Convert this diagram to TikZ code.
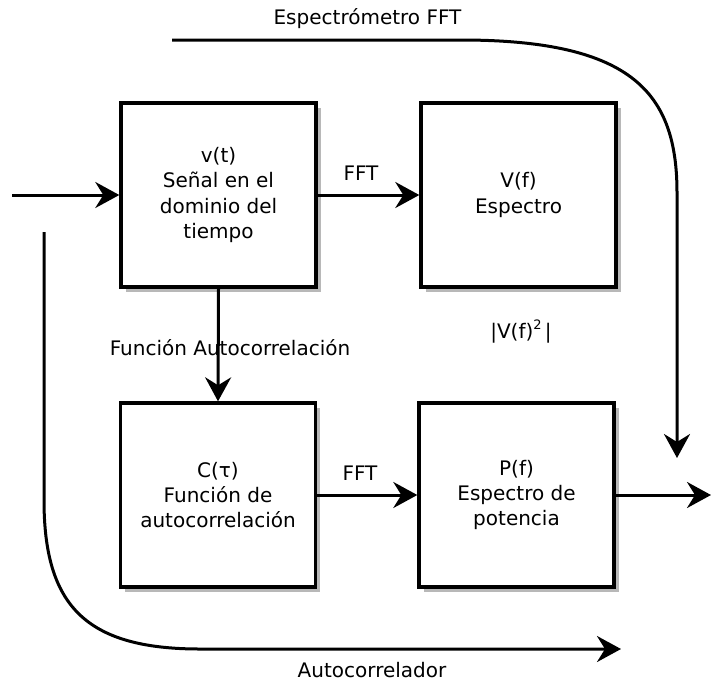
\documentclass[tikz,border=0pt]{standalone}
\usepackage{fontspec}
\setmainfont{DejaVu Sans}
\usetikzlibrary{arrows.meta,shadows}

\tikzset{
  blockbox/.style={draw=black, line width=3.4pt, fill=white,
    minimum width=195pt, minimum height=184pt, inner sep=0pt,
    align=center, font=\fontsize{20}{25.3}\selectfont,
    drop shadow={shadow xshift=4.5pt, shadow yshift=-4.5pt, fill=black!28, opacity=1}},
  conn/.style={line width=3pt, -{Stealth[length=24pt, width=26pt, inset=8pt]}},
  lbl/.style={anchor=base, inner sep=0pt, font=\fontsize{20}{24}\selectfont}
}

\begin{document}
\begin{tikzpicture}[x=1pt, y=-1pt]
  \useasboundingbox (0,0) rectangle (711,681);

  % processing blocks
  \node[blockbox] (sig)  at (218.5,195) {v(t)\\Señal en el\\dominio del\\tiempo};
  \node[blockbox] (spec) at (518.5,195) {V(f)\\Espectro};
  \node[blockbox] (acf)  at (218,495)   {C(τ)\\Función de\\autocorrelación};
  \node[blockbox] (psd)  at (516.5,495) {P(f)\\Espectro de\\potencia};

  % free ends of the connectors
  \coordinate (in)   at (12,195);
  \coordinate (out)  at (711,495);
  \coordinate (fftA) at (172,40);
  \coordinate (fftB) at (677,458);
  \coordinate (acA)  at (44,232);
  \coordinate (acB)  at (621,649);

  % signal path
  \draw[conn] (in) -- (sig.west);
  \draw[conn] (sig.east) -- (spec.west);
  \draw[conn] (sig.south) -- (acf.north);
  \draw[conn] (acf.east) -- (psd.west);
  \draw[conn] (psd.east) -- (out);

  % the two routes to the power spectrum
  \draw[conn] (fftA) -- (461,40) .. controls (635,40) and (677,95) .. (677,193) -- (fftB);
  \draw[conn] (acA) -- (44,500) .. controls (44,605) and (85,649) .. (200,649) -- (acB);

  % labels
  \node[lbl] (tSpec)  at (367.5,24)  {Espectrómetro FFT};
  \node[lbl] (tFft1)  at (361,180)   {FFT};
  \node[lbl] (tAcf)   at (230,355)   {Función Autocorrelación};
  \node[lbl] (tMag)   at (521,338)   {|V(f)\raisebox{0.45em}{\fontsize{13}{13}\selectfont 2}\,|};
  \node[lbl] (tFft2)  at (360,480)   {FFT};
  \node[lbl] (tAuto)  at (372,677)   {Autocorrelador};
\end{tikzpicture}
\end{document}
